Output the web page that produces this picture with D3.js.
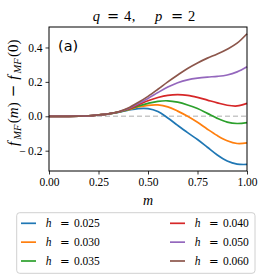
<!DOCTYPE html>
<html>
<head>
<meta charset="utf-8">
<script src="https://cdn.jsdelivr.net/npm/d3@7"></script>
<style>
body { margin: 0; background: #fff; }
svg { display: block; }
text { font-family: "Liberation Serif", serif; fill: #000; }
</style>
</head>
<body>
<script>
var width = 266, height = 280;

// values
var mValues = [0, 0.05, 0.1, 0.15, 0.2, 0.25, 0.3, 0.35, 0.4, 0.45, 0.5, 0.55, 0.6, 0.65, 0.7, 0.75, 0.8, 0.85, 0.9, 0.95, 1.0];
var h025 = [0, 0, 0, 0.001, 0.003, 0.008, 0.014, 0.023, 0.035, 0.045, 0.045, 0.028, -0.01, -0.053, -0.095, -0.135, -0.18, -0.225, -0.26, -0.278, -0.28];
var h030 = [0, 0, 0, 0.001, 0.003, 0.008, 0.014, 0.024, 0.038, 0.054, 0.064, 0.066, 0.055, 0.03, 0.0, -0.035, -0.075, -0.112, -0.142, -0.158, -0.155];
var h035 = [0, 0, 0, 0.001, 0.003, 0.008, 0.014, 0.024, 0.04, 0.059, 0.075, 0.087, 0.09, 0.082, 0.066, 0.045, 0.017, -0.012, -0.034, -0.042, -0.037];
var h040 = [0, 0, 0, 0.001, 0.003, 0.008, 0.014, 0.025, 0.042, 0.066, 0.09, 0.109, 0.122, 0.126, 0.122, 0.11, 0.094, 0.078, 0.064, 0.06, 0.075];
var h050 = [0, 0, 0, 0.001, 0.003, 0.008, 0.014, 0.025, 0.045, 0.073, 0.104, 0.138, 0.17, 0.195, 0.212, 0.222, 0.228, 0.232, 0.24, 0.258, 0.288];
var h060 = [0, 0, 0, 0.001, 0.003, 0.008, 0.014, 0.026, 0.048, 0.08, 0.116, 0.157, 0.2, 0.24, 0.278, 0.31, 0.338, 0.362, 0.39, 0.425, 0.48];
var hLabels = ["0.025", "0.030", "0.035", "0.040", "0.050", "0.060"];
var colors = ["#1f77b4", "#ff7f0e", "#2ca02c", "#d62728", "#9467bd", "#8c564b"];
var xTicks = [0, 0.25, 0.5, 0.75, 1];
var yTicks = [-0.2, 0, 0.2, 0.4];

var series = [h025, h030, h035, h040, h050, h060];

var svg = d3.select("body").append("svg")
	.attr("width", width)
	.attr("height", height);

var xscale = d3.scaleLinear().domain([0, 1]).range([49, 247]);
var yscale = d3.scaleLinear().domain([-0.318, 0.519]).range([171, 27]);

// puts math-like text together from pieces
function mathText(t, parts) {
	parts.forEach(function (p) {
		var s = t.append("tspan").text(p.t);
		if (p.it) s.style("font-style", "italic");
		if (p.op) s.style("font-family", "'DejaVu Serif', serif");
		if (p.size) s.style("font-size", p.size + "px");
		if (p.dx) s.attr("dx", p.dx);
		if (p.dy) s.attr("dy", p.dy);
	});
	return t;
}

// zero line
svg.append("line")
	.attr("x1", xscale(0)).attr("x2", xscale(1))
	.attr("y1", yscale(0)).attr("y2", yscale(0))
	.attr("stroke", "#c8c8c8")
	.attr("stroke-width", 1.5)
	.attr("stroke-dasharray", "5,3");

var line = d3.line()
	.x(function (d, i) { return xscale(mValues[i]); })
	.y(function (d) { return yscale(d); })
	.curve(d3.curveCatmullRom);

svg.selectAll("path.curve")
	.data(series)
	.enter()
	.append("path")
	.attr("class", "curve")
	.attr("d", line)
	.attr("fill", "none")
	.attr("stroke", function (d, i) { return colors[i]; })
	.attr("stroke-width", 1.7);

// axes
var x_axis = d3.axisBottom(xscale)
	.tickValues(xTicks)
	.tickSize(3.5)
	.tickPadding(3.5)
	.tickFormat(d3.format(".2f"));

var y_axis = d3.axisLeft(yscale)
	.tickValues(yTicks)
	.tickSize(3.5)
	.tickPadding(3)
	.tickFormat(function (d) { return d < 0 ? "\u2212\u2009" + d3.format(".1f")(-d) : d3.format(".1f")(d); });

var xg = svg.append("g").attr("transform", "translate(0,171)").call(x_axis);
var yg = svg.append("g").attr("transform", "translate(49,0)").call(y_axis);
[xg, yg].forEach(function (g) {
	g.attr("font-family", null);
	g.select(".domain").remove();
	g.selectAll("line").attr("stroke", "#000").attr("stroke-width", 0.8);
	g.selectAll("text").style("font-family", "'Liberation Serif', serif").style("font-size", "11.5px").attr("fill", "#000");
});

// frame
svg.append("rect")
	.attr("x", xscale(0)).attr("y", yscale(0.519))
	.attr("width", xscale(1) - xscale(0))
	.attr("height", yscale(-0.318) - yscale(0.519))
	.attr("fill", "none")
	.attr("stroke", "#000")
	.attr("stroke-width", 1);

// panel tag
svg.append("text")
	.attr("x", 58).attr("y", 50.5)
	.style("font-family", "'DejaVu Sans', sans-serif")
	.style("font-size", "14.5px")
	.text("(a)");

// title
mathText(svg.append("text").attr("x", 92.7).attr("y", 21).style("font-size", "14.5px"), [
	{t: "q", it: true}, {t: "=", op: true, dx: 7}, {t: "4", dx: 4.85}, {t: ",", dx: 0.5},
	{t: "p", it: true, dx: 19.6}, {t: "=", op: true, dx: 8.75}, {t: "2", dx: 4.85}
]);

// x label
svg.append("text")
	.attr("x", xscale(0.5)).attr("y", 205)
	.attr("text-anchor", "middle")
	.style("font-size", "14px")
	.style("font-style", "italic")
	.text("m");

// y label
mathText(svg.append("text").attr("transform", "translate(18,146) rotate(-90)").style("font-size", "15px"), [
	{t: "f", it: true}, {t: "MF", it: true, size: 10.5, dx: 2, dy: 3},
	{t: "(", dx: 1.5, dy: -3}, {t: "m", it: true}, {t: ")"},
	{t: "\u2212", op: true, dx: 5}, {t: "f", it: true, dx: 5},
	{t: "MF", it: true, size: 10.5, dx: 2, dy: 3}, {t: "(0)", dx: 1.5, dy: -3}
]);

// legend
svg.append("rect")
	.attr("x", 16.7).attr("y", 212.7)
	.attr("width", 238.3).attr("height", 60.6)
	.attr("rx", 3)
	.attr("fill", "#fff")
	.attr("stroke", "#d0d0d0")
	.attr("stroke-width", 1);

var legend = svg.selectAll("g.leg")
	.data(hLabels)
	.enter()
	.append("g")
	.attr("class", "leg")
	.attr("transform", function (d, i) { return "translate(" + (21 + Math.floor(i / 3) * 149) + "," + (223.3 + (i % 3) * 18.85) + ")"; });

legend.append("line")
	.attr("x1", 0).attr("x2", 15)
	.attr("stroke", function (d, i) { return colors[i]; })
	.attr("stroke-width", 1.7);

legend.each(function (d) {
	mathText(d3.select(this).append("text").attr("x", 24.7).attr("y", 4).style("font-size", "11.5px"), [
		{t: "h", it: true}, {t: "=", op: true, dx: 8.5}, {t: d, dx: 4.4}
	]);
});
</script>
</body>
</html>
